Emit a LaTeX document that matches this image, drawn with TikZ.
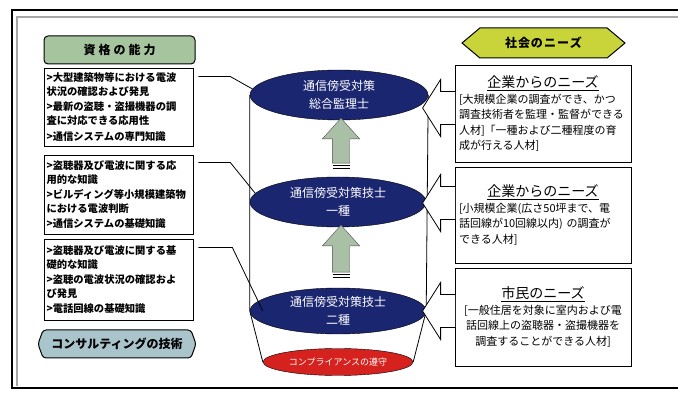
\documentclass[tikz,border=0pt]{standalone}
\usepackage{fontspec}
\setmainfont{Noto Sans CJK JP}
\usetikzlibrary{shapes.geometric,shapes.arrows,shapes.symbols,calc,backgrounds}

\definecolor{navy}{RGB}{27,38,112}
\definecolor{compred}{RGB}{214,34,30}
\definecolor{sage}{RGB}{166,196,158}
\definecolor{steel}{RGB}{170,196,204}
\definecolor{lime}{RGB}{200,212,58}
\definecolor{arrowgreen}{RGB}{170,192,166}

\tikzset{
  levelnode/.style={ellipse,draw=black,fill=navy,text=white,inner sep=0pt,align=center,
    font=\fontsize{12}{18}\selectfont},
  skillbox/.style={draw,line width=.8pt,minimum width=149pt,text width=144pt,inner sep=2.5pt,
    align=left,font=\bfseries\fontsize{10.3}{13.8}\selectfont},
  needbox/.style={draw,line width=.8pt,minimum width=176pt,text width=168pt,inner sep=4pt,
    font=\fontsize{11}{15.5}\selectfont},
  upstep/.style={single arrow,draw=black!70,fill=arrowgreen,shape border rotate=90,
    single arrow tip angle=84,inner sep=8.5pt,single arrow head extend=10pt,
    minimum width=36pt},
  tagline/.style={draw,line width=1pt,font=\bfseries\fontsize{12}{14}\selectfont},
}
\newcommand{\needhead}[1]{\makebox[\linewidth]{\fontsize{14}{16}\selectfont\underline{#1}}}

\begin{document}
\begin{tikzpicture}[x=1pt,y=-1pt]
  \useasboundingbox (0,0) rectangle (678,395);
  \clip (0,0) rectangle (678,395);
  % frame
  \draw[line width=2.5pt] (700,10) -- (12,10) -- (12,388) -- (700,388);
  \draw[gray!70,line width=1.2pt] (17,386) -- (17,17) -- (700,17);

  % left column
  \node[tagline,fill=sage,rounded corners=4pt,minimum width=151pt,minimum height=28pt]
    (ability) at (119.5,50) {資\hspace{3pt}格\hspace{3pt}の\hspace{3pt}能\hspace{3pt}力};
  \node[skillbox,minimum height=78pt] (skill1) at (118.5,107)
    {>大型建築物等における電波\\状況の確認および発見\\[1.5pt]>最新の盗聴・盗撮機器の調\\査に対応できる応用性\\[1.5pt]>通信システムの専門知識};
  \node[skillbox,minimum height=79pt] (skill2) at (118.5,194.5)
    {>盗聴器及び電波に関する応\\用的な知識\\[1.5pt]>ビルディング等小規模建築物\\における電波判断\\[1.5pt]>通信システムの基礎知識};
  \node[skillbox,minimum height=81pt] (skill3) at (118.5,279.5)
    {>盗聴器及び電波に関する基\\礎的な知識\\[1.5pt]>盗聴の電波状況の確認およ\\び発見\\[1.5pt]>電話回線の基礎知識};
  \node[tagline,fill=steel,signal,signal to=west and east,signal pointer angle=140,
    rounded corners=3pt,minimum width=158pt,minimum height=28pt]
    (consult) at (117,344) {コンサルティングの技術};

  % cylinder
  \node[levelnode,minimum width=178pt,minimum height=50pt] (dgen) at (339,95)
    {通信傍受対策\\総合監理士};
  \node[levelnode,minimum width=176pt,minimum height=50pt] (done) at (338,202)
    {通信傍受対策技士\\一種};
  \node[levelnode,minimum width=176pt,minimum height=46pt] (dtwo) at (338,311)
    {通信傍受対策技士\\二種};
  \node[ellipse,draw=black,fill=compred,text=white,inner sep=0pt,minimum width=150pt,
    minimum height=27pt,font=\fontsize{9}{11}\selectfont] (comply) at (338,362)
    {コンプライアンスの遵守};
  \begin{scope}[on background layer]
    \draw[line width=.8pt] (dgen.west) -- (dtwo.west) -- (comply.west);
    \draw[line width=.8pt] (dgen.east) -- (dtwo.east) -- (comply.east);
  \end{scope}
  \node[upstep,minimum height=45pt] (up1) at (341,145.5) {};
  \node[upstep,minimum height=47pt] (up2) at (341,253.5) {};
  \foreach \ar in {up1,up2}
    \foreach \s in {2.2,4.6}
      \draw[line width=.9pt] ($(\ar.south)+(-8.5,\s)$) -- ($(\ar.south)+(8.5,\s)$);

  \draw[line width=.8pt] ([xshift=5pt,yshift=-9pt]skill1.north east) -- ++(32,0) -- (dgen.176);
  \draw[line width=.8pt] ([xshift=5pt,yshift=-8pt]skill2.north east) -- ++(32,0) -- (done.174);
  \draw[line width=.8pt] ([xshift=5pt,yshift=-9pt]skill3.north east) -- ++(34,0)
    -- ([xshift=13pt]dtwo.west);

  % right column
  \node[tagline,fill=lime,signal,signal to=west and east,signal pointer angle=80,
    minimum width=163pt,minimum height=30pt] (society) at (543.5,43)
    {社\hspace{1pt}会\hspace{1pt}の\hspace{1pt}ニ\hspace{1pt}ー\hspace{1pt}ズ};
  \node[needbox,minimum height=97pt,align=left] (need1) at (543,113.5)
    {\needhead{企業からのニーズ}\\{}[大規模企業の調査ができ、かつ\\調査技術者を監理・監督ができる\\人材]「一種および二種程度の育\\成が行える人材]};
  \node[needbox,minimum height=96pt,align=left] (need2) at (543,215)
    {\needhead{企業からのニーズ}\\{}[小規模企業(広さ50坪まで、電\\話回線が10回線以内) の調査が\\できる人材]};
  \node[needbox,minimum height=98pt,align=center] (need3) at (543,317)
    {\needhead{市民のニーズ}\\{}[一般住居を対象に室内および電\\話回線上の盗聴器・盗撮機器を\\調査することができる人材]};
  \foreach \nb/\dy in {need1/-5.5,need2/-12,need3/-6}
    \draw[line width=.8pt,fill=white] ($(\nb.west)+(.6,\dy-16.5)$) -- ++(-14.6,0) -- ++(0,-12)
      -- ($(\nb.west)+(-32,\dy)$) -- ($(\nb.west)+(-14,\dy+28.5)$) -- ++(0,-12)
      -- ($(\nb.west)+(.6,\dy+16.5)$);
\end{tikzpicture}
\end{document}
